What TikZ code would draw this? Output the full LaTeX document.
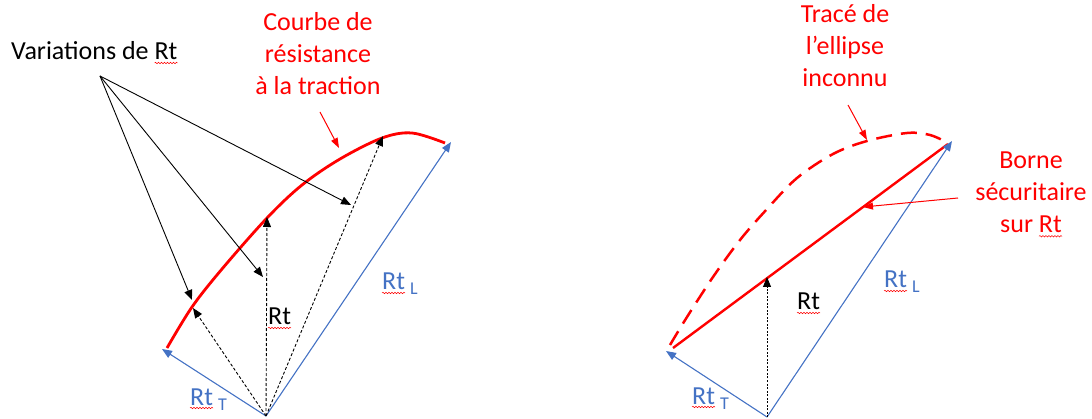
\documentclass[tikz,border=0pt]{standalone}
\usepackage{fontspec}
\setmainfont{Carlito}
\usetikzlibrary{arrows.meta,decorations.pathmorphing}
\definecolor{offblue}{HTML}{4472C4}
\definecolor{wred}{HTML}{FF0000}
\tikzset{
  lbl/.style={font=\fontsize{26}{32}\selectfont, inner sep=0pt},
  sublbl/.style={font=\fontsize{18}{20}\selectfont, inner sep=0pt, text=offblue, anchor=base west},
  redlbl/.style={lbl, text=wred, align=center, anchor=north},
  bluelbl/.style={lbl, text=offblue, anchor=base west},
  blacklbl/.style={lbl, text=black, anchor=base west},
  bluevec/.style={draw=offblue, line width=1.1pt, -{Triangle[length=10pt,width=8pt]}},
  blackarr/.style={draw=black, line width=0.9pt, -{Triangle[length=10pt,width=8pt]}},
  dasharr/.style={draw=black, line width=0.9pt, dash pattern=on 3pt off 2pt, -{Triangle[length=10pt,width=8pt]}},
  dotarr/.style={draw=black, line width=0.9pt, dash pattern=on 2pt off 1.5pt, -{Triangle[length=10pt,width=8pt]}},
  callout/.style={draw=wred, line width=1pt, -{Triangle[length=10pt,width=7pt]}},
  redcurve/.style={draw=wred, line width=2.8pt},
  wave/.style={draw=wred, line width=0.5pt, decorate, decoration={snake, amplitude=0.7pt, segment length=3pt}},
}
\begin{document}
\begin{tikzpicture}[x=1pt,y=-1pt]
\path[use as bounding box] (0,0) rectangle (1092,419);

% ---------------- left diagram ----------------
\coordinate (O1) at (266,416);
\coordinate (T1) at (162,349);
\coordinate (L1) at (451,142);
\coordinate (P1) at (193,308);
\coordinate (P2) at (267,217);
\coordinate (P3) at (383,136);
\coordinate (V) at (100,76);
\coordinate (Q1) at (192,300);
\coordinate (Q2) at (263,277);
\coordinate (Q3) at (351,205);

\draw[redcurve] plot[smooth, tension=0.55] coordinates {(167,348) (192,307) (222,269) (267,218) (302,185) (340,159) (382,138) (412,133) (445,143)};

\draw[bluevec] (O1) -- (T1);
\draw[bluevec] (O1) -- (L1);
\draw[dasharr] (O1) -- (P1);
\draw[dasharr] (O1) -- (P2);
\draw[dasharr] (O1) -- (P3);
\draw[blackarr] (V) -- (Q1);
\draw[blackarr] (V) -- (Q2);
\draw[blackarr] (V) -- (Q3);

\node[blacklbl] (var) at (11,60) {Variations de Rt};
\draw[wave] ([xshift=-23pt,yshift=-3pt]var.base east) -- ([yshift=-3pt]var.base east);
\node[redlbl] (courbe) at (318,12) {Courbe de\\résistance\\à la traction};
\coordinate (c1s) at (320,112);
\coordinate (c1e) at (339,148);
\draw[callout] (c1s) -- (c1e);
\node[blacklbl] (rt1) at (268,325) {Rt};
\draw[wave] ([yshift=-3pt]rt1.base west) -- ([yshift=-3pt]rt1.base east);
\node[bluelbl] (rtT1) at (190,405) {Rt};
\node[sublbl] (subT1) at (218,410) {T};
\draw[wave] ([yshift=-3pt]rtT1.base west) -- ([yshift=-3pt]rtT1.base east);
\node[bluelbl] (rtL1) at (382,290) {Rt};
\node[sublbl] (subL1) at (410,295) {L};
\draw[wave] ([yshift=-3pt]rtL1.base west) -- ([yshift=-3pt]rtL1.base east);

% ---------------- right diagram ----------------
\coordinate (O2) at (767,417);
\coordinate (T2) at (666,351);
\coordinate (L2) at (952,141);
\coordinate (A2) at (673,348);
\coordinate (B2) at (948,144);
\coordinate (R2) at (767,277);

\draw[redcurve, line width=2.5pt, dash pattern=on 16pt off 9pt] plot[smooth, tension=0.55] coordinates {(670,345) (687,317) (713,277) (740,240) (767,209) (797,178) (833,154) (867,141) (907,133) (930,135) (948,143)};
\draw[redcurve, line width=2.4pt] (A2) -- (B2);

\draw[bluevec] (O2) -- (T2);
\draw[bluevec] (O2) -- (L2);
\draw[dotarr] (O2) -- (R2);

\node[redlbl] (trace) at (845,4) {Tracé de\\l’ellipse\\inconnu};
\coordinate (c2s) at (848,105);
\coordinate (c2e) at (867,140);
\draw[callout] (c2s) -- (c2e);
\node[redlbl] (borne) at (1031,152) {Borne\\sécuritaire\\sur Rt};
\draw[wave] ([xshift=8pt,yshift=-3pt]borne.south) -- ([xshift=31pt,yshift=-3pt]borne.south);
\coordinate (c3s) at (958,198);
\coordinate (c3e) at (863,207);
\draw[callout] (c3s) -- (c3e);
\node[blacklbl] (rt2) at (797,310) {Rt};
\draw[wave] ([yshift=-3pt]rt2.base west) -- ([yshift=-3pt]rt2.base east);
\node[bluelbl] (rtT2) at (692,404) {Rt};
\node[sublbl] (subT2) at (720,409) {T};
\draw[wave] ([yshift=-3pt]rtT2.base west) -- ([yshift=-3pt]rtT2.base east);
\node[bluelbl] (rtL2) at (884,288) {Rt};
\node[sublbl] (subL2) at (912,293) {L};
\draw[wave] ([yshift=-3pt]rtL2.base west) -- ([yshift=-3pt]rtL2.base east);
\end{tikzpicture}
\end{document}
